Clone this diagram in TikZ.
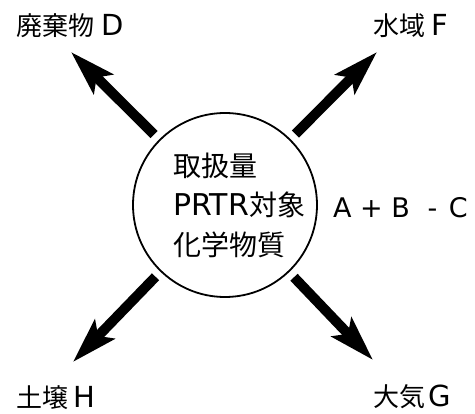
\documentclass[tikz,border=0pt]{standalone}
\usepackage{fontspec}
\setmainfont{DejaVu Sans}
\newfontfamily\cjk{Noto Sans CJK JP}
\usetikzlibrary{arrows.meta}
\newcommand{\latl}[1]{{\fontsize{29}{30}\selectfont #1}}
\newcommand{\latc}[1]{{\fontsize{30}{34}\selectfont #1}}
\begin{document}
\begin{tikzpicture}[x=1pt,y=-1pt,
  ctext/.style={inner sep=0pt,anchor=west,font=\fontsize{28}{34}\selectfont\cjk},
  lbl/.style={inner sep=0pt,font=\fontsize{26}{30}\selectfont\cjk},
  flow/.style={line width=10pt,-{Stealth[length=45pt,width=27pt,inset=9pt]},shorten <=7pt},
  hub/.style={circle,draw,line width=1.8pt,minimum size=184pt,inner sep=0pt}]
\fill[white] (0,0) rectangle (475,414);
\useasboundingbox (0,0) rectangle (475,414);
\node[hub] (c) at (225,205) {};
\node[ctext] (l1) at (173,165.5) {取扱量};
\node[ctext] (l2) at (173,205) {\latc{\rmfamily PRTR}対象};
\node[ctext] (l3) at (173,244.5) {化学物質};
\node[inner sep=0pt,font=\fontsize{27}{32}\selectfont,anchor=west] (eq) at (333,208) {A + B\hspace{9pt} -\hspace{3pt} C};
\node[lbl] (D) at (70,26) {廃棄物\hspace{7pt}\latl{\rmfamily D}};
\node[lbl] (F) at (410.5,26) {水域\hspace{6pt}\latl{\rmfamily F}};
\node[lbl] (H) at (56,397.5) {土壌\hspace{5pt}\latl{\rmfamily H}};
\node[lbl] (G) at (412.5,397) {大気\hspace{3pt}\latl{\rmfamily G}};
\coordinate (tD) at (71,52);
\coordinate (tF) at (377,52);
\coordinate (tH) at (73,362);
\coordinate (tG) at (373,360);
\draw[flow] (c) -- (tD);
\draw[flow] (c) -- (tF);
\draw[flow] (c) -- (tH);
\draw[flow] (c) -- (tG);
\end{tikzpicture}
\end{document}
